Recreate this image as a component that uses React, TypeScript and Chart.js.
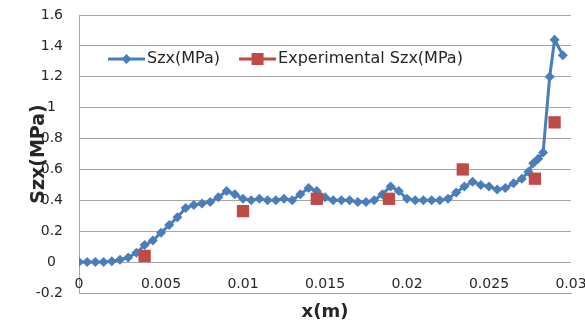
import React, { useEffect, useRef } from 'react';
import { Chart, registerables } from 'chart.js';

Chart.register(...registerables);

const szxX = [
  0, 0.0005, 0.001, 0.0015, 0.002, 0.0025, 0.003, 0.0035, 0.004, 0.0045,
  0.005, 0.0055, 0.006, 0.0065, 0.007, 0.0075, 0.008, 0.0085, 0.009, 0.0095,
  0.01, 0.0105, 0.011, 0.0115, 0.012, 0.0125, 0.013, 0.0135, 0.014, 0.0145,
  0.015, 0.0155, 0.016, 0.0165, 0.017, 0.0175, 0.018, 0.0185, 0.019, 0.0195,
  0.02, 0.0205, 0.021, 0.0215, 0.022, 0.0225, 0.023, 0.0235, 0.024, 0.0245,
  0.025, 0.0255, 0.026, 0.0265, 0.027, 0.0274, 0.0277, 0.028, 0.0283, 0.0287,
  0.029, 0.0295,
];
const szxY = [
  0, 0, 0, 0, 0.005, 0.015, 0.03, 0.06, 0.11, 0.14,
  0.19, 0.24, 0.29, 0.35, 0.37, 0.38, 0.39, 0.42, 0.46, 0.44,
  0.41, 0.4, 0.41, 0.4, 0.4, 0.41, 0.4, 0.44, 0.48, 0.46,
  0.42, 0.4, 0.4, 0.4, 0.39, 0.39, 0.4, 0.44, 0.49, 0.46,
  0.41, 0.4, 0.4, 0.4, 0.4, 0.41, 0.45, 0.49, 0.52, 0.5,
  0.49, 0.47, 0.48, 0.51, 0.54, 0.585, 0.64, 0.67, 0.71, 1.2,
  1.44, 1.34,
];
const expX = [0.004, 0.01, 0.0145, 0.0189, 0.0234, 0.0278, 0.029];
const expY = [0.04, 0.33, 0.41, 0.41, 0.6, 0.54, 0.905];

const xTickLabels = ['0', '0.005', '0.01', '0.015', '0.02', '0.025', '0.03'];
const yTickLabels = ['-0.2', '0', '0.2', '0.4', '0.6', '0.8', '1', '1.2', '1.4', '1.6'];
const seriesNames = ['Szx(MPa)', 'Experimental Szx(MPa)'];
const xTitle = 'x(m)';
const yTitle = 'Szx(MPa)';

const BLUE = '#4A7EBB';
const RED = '#BE4B48';
const GRID = '#a6a6a6';
const TEXT = '#262626';

const legendPlugin = {
  id: 'excelLegend',
  afterDatasetsDraw(chart: any) {
    const { ctx, chartArea } = chart;
    const y = chartArea.top + 44;
    let x = chartArea.left + 29;
    ctx.save();
    ctx.font = '16px "DejaVu Sans"';
    ctx.textBaseline = 'middle';
    ctx.textAlign = 'left';
    chart.data.datasets.slice().sort((a: any, b: any) => a.legendIndex - b.legendIndex).forEach((ds: any) => {
      const color = ds.borderColor;
      const lineLen = 37;
      ctx.strokeStyle = color;
      ctx.lineWidth = 3;
      ctx.beginPath();
      ctx.moveTo(x, y);
      ctx.lineTo(x + lineLen, y);
      ctx.stroke();
      ctx.fillStyle = color;
      const cx = x + lineLen / 2;
      if (ds.pointStyle === 'rectRot') {
        const r = 5;
        ctx.beginPath();
        ctx.moveTo(cx - r, y);
        ctx.lineTo(cx, y - r);
        ctx.lineTo(cx + r, y);
        ctx.lineTo(cx, y + r);
        ctx.closePath();
        ctx.fill();
      } else {
        const s = 6;
        ctx.fillRect(cx - s, y - s, 2 * s, 2 * s);
      }
      ctx.fillStyle = TEXT;
      ctx.fillText(ds.label, x + lineLen + 2, y);
      x += lineLen + 2 + ctx.measureText(ds.label).width + 19;
    });

    // x tick labels next to the horizontal axis crossing (Excel style)
    const xs = chart.scales.x;
    ctx.font = '14px "DejaVu Sans"';
    ctx.textAlign = 'center';
    ctx.fillStyle = TEXT;
    xs.ticks.forEach((t: any, i: number) => {
      const label = xTickLabels[i];
      if (label === undefined) return;
      ctx.fillText(label, xs.getPixelForValue(t.value), chartArea.bottom - 9);
    });
    ctx.restore();
  },
};

export default function App() {
  const canvasRef = useRef<HTMLCanvasElement | null>(null);

  useEffect(() => {
    if (!canvasRef.current) return;
    const chart = new Chart(canvasRef.current, {
      type: 'scatter',
      data: {
        datasets: [
          {
            label: seriesNames[1],
            legendIndex: 1,
            data: expX.map((x, i) => ({ x, y: expY[i] })),
            showLine: false,
            pointStyle: 'rect',
            pointRadius: 8.7,
            pointHoverRadius: 8.7,
            backgroundColor: RED,
            borderColor: RED,
            pointBorderWidth: 0,
            order: 0,
          } as any,
          {
            label: seriesNames[0],
            legendIndex: 0,
            data: szxX.map((x, i) => ({ x, y: szxY[i] })),
            showLine: true,
            tension: 0,
            borderWidth: 3,
            pointStyle: 'rectRot',
            pointRadius: 5,
            pointHoverRadius: 5,
            backgroundColor: BLUE,
            borderColor: BLUE,
            pointBorderWidth: 0,
            order: 1,
          } as any,
        ],
      },
      options: {
        responsive: false,
        animation: false,
        devicePixelRatio: 1,
        layout: { padding: { left: 0, top: 15, right: 14, bottom: 0 } },
        plugins: {
          legend: { display: false },
          tooltip: { enabled: false },
        },
        scales: {
          x: {
            type: 'linear',
            position: 'bottom',
            min: 0,
            max: 0.03,
            afterFit: (scale: any) => {
              scale.height = 32;
              scale.paddingLeft = 0;
              scale.paddingRight = 0;
            },
            ticks: {
              stepSize: 0.005,
              display: false,
              maxRotation: 0,
              autoSkip: false,
            },
            grid: { display: false, drawTicks: false },
            border: { display: true, color: GRID, width: 1 },
            title: {
              display: true,
              text: xTitle,
              font: { family: 'DejaVu Sans', size: 18, weight: 'bold' },
              color: TEXT,
              padding: { top: 0, bottom: 2 },
            },
          },
          y: {
            type: 'linear',
            min: -0.2,
            max: 1.6,
            afterFit: (scale: any) => {
              scale.width = 79;
              scale.paddingTop = 0;
              scale.paddingBottom = 0;
            },
            ticks: {
              stepSize: 0.2,
              padding: 16,
              font: { family: 'DejaVu Sans', size: 14 },
              color: TEXT,
              callback: (_v: any, i: number) => {
                const s = yTickLabels[i];
                return s.includes('.') ? s : s + '\u2002';
              },
            },
            grid: { color: GRID, lineWidth: 1, drawTicks: false },
            border: { display: true, color: GRID, width: 1 },
            title: {
              display: true,
              text: yTitle,
              font: { family: 'DejaVu Sans', size: 19, weight: 'bold' },
              color: TEXT,
              padding: { top: 28, bottom: 0 },
            },
          },
        },
      },
      plugins: [legendPlugin],
    });
    return () => chart.destroy();
  }, []);

  return (
    <div style={{ position: 'fixed', left: 0, top: 0, width: 585, height: 325, background: '#fff' }}>
      <canvas ref={canvasRef} width={585} height={325} style={{ display: 'block' }} />
    </div>
  );
}
